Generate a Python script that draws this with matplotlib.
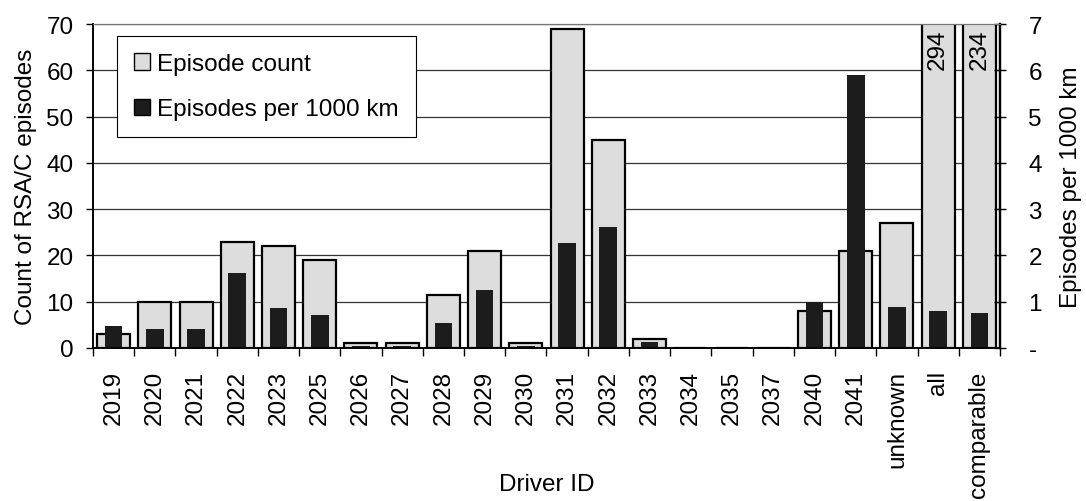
import matplotlib
matplotlib.use('Agg')
import matplotlib.pyplot as plt
import numpy as np
from matplotlib.patches import Patch

plt.rcParams['font.family'] = ['Liberation Sans', 'DejaVu Sans']

# datos
conductores = ['2019', '2020', '2021', '2022', '2023', '2025', '2026', '2027', '2028', '2029',
               '2030', '2031', '2032', '2033', '2034', '2035', '2037', '2040', '2041',
               'unknown', 'all', 'comparable']
conteo = [3, 10, 10, 23, 22, 19, 1, 1, 11.5, 21, 1, 69, 45, 2, 0, 0, 0, 8, 21, 27, 294, 234]
por_1000km = [0.47, 0.41, 0.41, 1.62, 0.86, 0.72, 0.04, 0.04, 0.54, 1.26, 0.04, 2.26, 2.61,
              0.12, 0, 0, 0, 1.0, 5.89, 0.88, 0.79, 0.75]

fs = 17.5
x = np.arange(len(conductores))

fig = plt.figure(figsize=(10.86, 5.02), dpi=100)
ax = fig.add_axes([0.0856, 0.3048, 0.8352, 0.6452])
ax2 = ax.twinx()

ax.set_axisbelow(True)
ax.yaxis.grid(True, color='#333333', linewidth=0.9)
ax.bar(x, conteo, width=0.8, color='#dddddd', edgecolor='black', linewidth=1.6, zorder=2)
ax2.bar(x, por_1000km, width=0.43, color='#1c1c1c', edgecolor='none', zorder=2)

# etiquetas de barras que se salen del eje
for xi, v in zip(x, conteo):
    if v > 70:
        ax.text(xi, 69.0, str(v), rotation=90, ha='center', va='top', fontsize=fs, zorder=5)

ax.set_xlim(-0.5, len(conductores) - 0.5)
ax.set_ylim(0, 70)
ax.set_yticks(range(0, 71, 10))
ax2.set_ylim(0, 7)
ax2.set_yticks(range(0, 8))
ax2.set_yticklabels(['-'] + [str(i) for i in range(1, 8)])

ax.set_xticks(x)
ax.set_xticklabels(conductores, rotation=90, fontsize=fs)
ax.set_xticks(np.arange(-0.5, len(conductores)), minor=True)
ax.tick_params(axis='x', which='major', length=0, pad=16)
ax.tick_params(axis='x', which='minor', length=6, width=1, direction='out')
ax.tick_params(axis='y', labelsize=fs, length=5, width=1, direction='out', pad=9)
ax2.tick_params(axis='y', labelsize=fs, length=9, width=1, direction='inout', pad=16)

for a in (ax, ax2):
    a.spines['top'].set_color('#777777')
    a.spines['top'].set_linewidth(0.8)
    a.spines['left'].set_linewidth(1.2)
    a.spines['right'].set_linewidth(1.6)
    a.spines['bottom'].set_linewidth(1.2)

ax.set_xlabel('Driver ID', fontsize=fs)
ax.xaxis.set_label_coords(0.5, -0.385)
ax.set_ylabel('Count of RSA/C episodes', fontsize=fs)
ax.yaxis.set_label_coords(-0.062, 0.5)
ax2.set_ylabel('Episodes per 1000 km', fontsize=fs)
ax2.yaxis.set_label_coords(1.066, 0.5)

handles = [Patch(facecolor='#dddddd', edgecolor='black', linewidth=1.0),
           Patch(facecolor='#1c1c1c', edgecolor='black', linewidth=1.0)]
leg = ax2.legend(handles, ['Episode count', 'Episodes per 1000 km'], loc='upper left',
                 bbox_to_anchor=(0.0265, 0.963), fontsize=fs, frameon=True, fancybox=False,
                 edgecolor='black', framealpha=1, handlelength=0.65, handleheight=0.65,
                 handletextpad=0.3, labelspacing=0.95, borderpad=0.7, borderaxespad=0)
leg.get_frame().set_linewidth(0.8)
leg.set_zorder(10)

fig.savefig('out.png', dpi=100)
